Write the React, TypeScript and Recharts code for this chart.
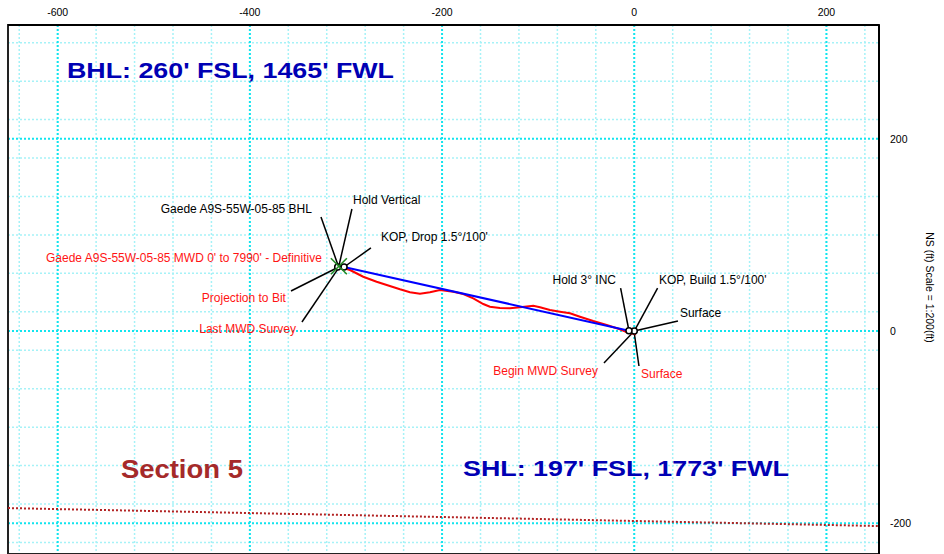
import React from 'react'
import {
  ComposedChart,
  Scatter,
  XAxis,
  YAxis,
  CartesianGrid,
  ReferenceLine,
  ReferenceArea
} from 'recharts'

// tick labels (ft)
const xTicks = [-600, -400, -200, 0, 200]
const yTicks = [-200, 0, 200]

// MWD survey, surface -> bit (EW ft, NS ft)
const surveyEW = [0, 0.7, -6.2, -14.9, -28.7, -42.7, -56.5, -66.9, -77.3, -87.7, -98.1, -105.1, -118.9, -129.3, -139.8, -150.2, -157.1, -167.5, -177.9, -188.3, -202.2, -212.6, -223.0, -233.4, -243.8, -257.6, -268.1, -282.0, -295.8, -307.6]
const surveyNS = [0, -3.1, -1.8, 1.8, 6.2, 10.4, 14.9, 18.4, 20.1, 21.9, 24.7, 26.3, 24.7, 23.6, 23.9, 25.3, 28.1, 34.0, 38.5, 40.9, 42.7, 40.3, 38.8, 40.3, 43.4, 47.9, 51.3, 56.5, 63.5, 67.2]

// well plan stations: KOP build, hold 3 deg, KOP drop, hold vertical / BHL
const planEW = [0, -5.5, -302, -308.6]
const planNS = [0, 0.3, 66.6, 66.6]

// target marker (BHL)
const targetEW = [-307.4]
const targetNS = [67.4]

// section line
const sectionEW = [-651.7, 254.7]
const sectionNS = [-184.2, -202.9]

// station labels: text, label spot, leader start, station
const planLabelText = ['Gaede A9S-55W-05-85 BHL', 'Hold Vertical', "KOP, Drop 1.5°/100'", 'Hold 3° INC', "KOP, Build 1.5°/100'", 'Surface']
const planLabelEW = [-335.4, -292.7, -263.6, -19.0, 25.7, 47.5]
const planLabelNS = [127.0, 136.3, 97.8, 53.0, 53.0, 18.7]
const planLeaderEW = [-326.0, -293.8, -274.0, -14.2, 24.3, 45.5]
const planLeaderNS = [118.6, 127.0, 86.4, 44.7, 44.7, 10.4]
const planPointEW = [-307.6, -307.6, -302.0, -5.5, 0, 0]
const planPointNS = [66.6, 66.6, 66.6, 0.3, 0, 0]

const surveyLabelText = ["Gaede A9S-55W-05-85 MWD 0' to 7990' - Definitive", 'Projection to Bit', 'Last MWD Survey', 'Begin MWD Survey', 'Surface']
const surveyLabelEW = [-325.1, -362.5, -352.1, -37.8, 7.0]
const surveyLabelNS = [76.0, 34.3, 2.8, -41.6, -44.7]
const surveyLeaderEW = [null, -357.2, -345.8, -31.5, 4.9]
const surveyLeaderNS = [null, 41.6, 9.4, -33.3, -36.4]
const surveyPointEW = [-307.6, -307.6, -306.0, 0, 0]
const surveyPointNS = [66.6, 66.6, 68.0, 0, -2.0]

const titleText = ["BHL: 260' FSL, 1465' FWL", "SHL: 197' FSL, 1773' FWL", 'Section 5']
const titleEW = [-590.3, -178.2, -534.2]
const titleNS = [271.6, -142.6, -143.6]

const X_DOMAIN: [number, number] = [-651.7, 254.7]
const Y_DOMAIN: [number, number] = [-232, 318.4]
const FONT = '"Liberation Sans", Arial, sans-serif'

const range = (a: number, b: number, s: number) => {
  const out: number[] = []
  for (let v = a; v <= b; v += s) out.push(v)
  return out
}
const minorX = range(-640, 240, 20)
const minorY = range(-220, 300, 20)

const pts = (xs: number[], ys: number[]) => xs.map((x, i) => ({ x, y: ys[i] }))

const survey = pts(surveyEW, surveyNS)
const plan = pts(planEW, planNS)
const target = pts(targetEW, targetNS)
const sectionLine = pts(sectionEW, sectionNS)

const makeLabels = (text: string[], lx: number[], ly: number[], sx: (number | null)[], sy: (number | null)[], px: number[], py: number[]) =>
  text.map((t, i) => ({ text: t, x: lx[i], y: ly[i], sx: sx[i], sy: sy[i], px: px[i], py: py[i] }))

const planLabels = makeLabels(planLabelText, planLabelEW, planLabelNS, planLeaderEW, planLeaderNS, planPointEW, planPointNS)
const surveyLabels = makeLabels(surveyLabelText, surveyLabelEW, surveyLabelNS, surveyLeaderEW, surveyLeaderNS, surveyPointEW, surveyPointNS)

const titleStyle = [
  { fill: '#0000b4', size: 22.5, len: 327 },
  { fill: '#0000b4', size: 22.5, len: 326 },
  { fill: '#a52a2a', size: 26, len: 122 }
]
const titles = titleText.map((t, i) => ({ text: t, x: titleEW[i], y: titleNS[i], i }))

const Empty = () => <g />

const labelShape = (color: string) => (props: any) => {
  const { cx, cy, payload } = props
  const anchor = payload.x < payload.px ? 'end' : 'start'
  return (
    <text x={cx} y={cy} dy="0.35em" textAnchor={anchor} fontSize={12} fill={color} fontFamily={FONT}>
      {payload.text}
    </text>
  )
}

const TitleShape = (props: any) => {
  const { cx, cy, payload } = props
  const st = titleStyle[payload.i]
  return (
    <text x={cx} y={cy} dy="0.36em" fontSize={st.size} fontWeight="bold" fill={st.fill} fontFamily={FONT}
      textLength={st.len} lengthAdjust="spacingAndGlyphs">
      {payload.text}
    </text>
  )
}

const StationCircle = (props: any) => (
  <circle cx={props.cx} cy={props.cy} r={3} fill="#fff" stroke="#000" strokeWidth={1.5} />
)

const TargetX = (props: any) => {
  const { cx, cy } = props
  const d = 8
  return (
    <g stroke="#228b22" strokeWidth={1.6}>
      <line x1={cx - d} y1={cy - d} x2={cx + d} y2={cy + d} />
      <line x1={cx - d} y1={cy + d} x2={cx + d} y2={cy - d} />
    </g>
  )
}

const AxisTitle = (props: any) => {
  const vb = props.viewBox || { x: 879, y: 25, width: 65, height: 529 }
  const x = 930
  const y = 287.5
  return (
    <text x={x} y={y} transform={`rotate(90 ${x} ${y})`} textAnchor="middle" dy="0.35em"
      fontSize={10.5} fill="#000" fontFamily={FONT}>
      NS (ft) Scale = 1:200(ft)
    </text>
  )
}

const tickStyle = { fontSize: 10.5, fill: '#000', fontFamily: FONT }

const App: React.FC = () => {
  return (
    <div style={{ position: 'absolute', left: 0, top: 0, width: 944, height: 554, background: '#fff' }}>
      <ComposedChart width={944} height={554} margin={{ top: 0, right: 0, bottom: 0, left: 8 }}>
        <XAxis xAxisId="minor" type="number" dataKey="x" domain={X_DOMAIN} ticks={minorX} allowDataOverflow hide />
        <YAxis yAxisId="minor" type="number" dataKey="y" domain={Y_DOMAIN} ticks={minorY} allowDataOverflow hide />
        <XAxis
          type="number"
          dataKey="x"
          orientation="top"
          height={25}
          domain={X_DOMAIN}
          ticks={xTicks}
          allowDataOverflow
          tickLine={false}
          tickMargin={3}
          axisLine={{ stroke: '#000', strokeWidth: 2 }}
          tick={tickStyle}
        />
        <YAxis
          type="number"
          dataKey="y"
          orientation="right"
          width={65}
          domain={Y_DOMAIN}
          ticks={yTicks}
          allowDataOverflow
          tickLine={false}
          tickMargin={5}
          axisLine={{ stroke: '#000', strokeWidth: 2 }}
          tick={{ ...tickStyle, textAnchor: 'start' }}
          label={<AxisTitle />}
        />
        <CartesianGrid xAxisId="minor" yAxisId="minor" stroke="#a6f2f7" strokeWidth={1.5} strokeDasharray="2 2" />
        <CartesianGrid stroke="#12e4ee" strokeWidth={2} strokeDasharray="2 2" />
        <ReferenceArea x1={X_DOMAIN[0]} x2={X_DOMAIN[1]} y1={Y_DOMAIN[0]} y2={Y_DOMAIN[1]}
          fill="none" fillOpacity={0} stroke="#222" strokeWidth={2} ifOverflow="visible" />

        <Scatter data={sectionLine} line={{ stroke: '#b22222', strokeWidth: 2, strokeDasharray: '2 2' }} lineType="joint" shape={Empty} isAnimationActive={false} />

        {planLabels.map((l, i) => (
          <ReferenceLine key={'pl' + i} segment={[{ x: l.sx as number, y: l.sy as number }, { x: l.px, y: l.py }]} stroke="#000" strokeWidth={1.5} />
        ))}
        {surveyLabels.filter(l => l.sx !== null).map((l, i) => (
          <ReferenceLine key={'sl' + i} segment={[{ x: l.sx as number, y: l.sy as number }, { x: l.px, y: l.py }]} stroke="#000" strokeWidth={1.5} />
        ))}

        <Scatter data={survey} line={{ stroke: '#ff0000', strokeWidth: 2 }} lineType="joint" shape={Empty} isAnimationActive={false} />
        <Scatter data={plan} line={{ stroke: '#0000ff', strokeWidth: 2 }} lineType="joint" shape={StationCircle} isAnimationActive={false} />
        <Scatter data={target} shape={TargetX} isAnimationActive={false} />

        <Scatter data={planLabels} shape={labelShape('#000')} isAnimationActive={false} />
        <Scatter data={surveyLabels} shape={labelShape('#ff1414')} isAnimationActive={false} />
        <Scatter data={titles} shape={TitleShape} isAnimationActive={false} />
      </ComposedChart>
    </div>
  )
}

export default App
